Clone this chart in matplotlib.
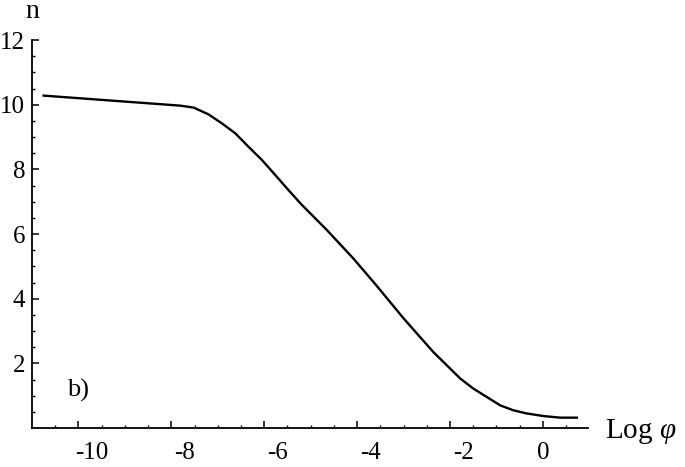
import numpy as np
import matplotlib
matplotlib.use('Agg')
import matplotlib.pyplot as plt
import matplotlib.transforms as mtrans

plt.rcParams['font.family'] = 'Liberation Serif'
plt.rcParams['mathtext.fontset'] = 'custom'
plt.rcParams['mathtext.rm'] = 'Liberation Serif'
plt.rcParams['mathtext.it'] = 'Liberation Serif:italic'
plt.rcParams['axes.unicode_minus'] = False

# curva
log_phi = [-10.75, -7.81, -7.52, -7.20, -6.91, -6.62, -6.34, -6.05, -5.76, -5.48,
           -5.19, -4.65, -4.08, -3.58, -3.00, -2.65, -2.36, -2.07, -1.78, -1.50,
           -1.21, -0.92, -0.64, -0.35, 0.01, 0.37, 0.73]
n_val = [10.28, 9.97, 9.91, 9.70, 9.42, 9.11, 8.70, 8.29, 7.82, 7.36,
         6.90, 6.12, 5.24, 4.40, 3.39, 2.82, 2.35, 1.94, 1.53, 1.22,
         0.96, 0.70, 0.55, 0.45, 0.37, 0.32, 0.32]

xticks = [-10, -8, -6, -4, -2, 0]
yticks = [2, 4, 6, 8, 10, 12]

fig = plt.figure(figsize=(6.85, 4.67), dpi=100)
ax = fig.add_axes([32/685, 1-428/467, (588-32)/685, (428-40)/467])

ax.plot(log_phi, n_val, color='black', lw=1.7)

ax.set_xlim(-11, 0.97)
ax.set_ylim(0, 12)
ax.spines['top'].set_visible(False)
ax.spines['right'].set_visible(False)
for s in ['left', 'bottom']:
    ax.spines[s].set_linewidth(1.3)

ax.set_xticks(xticks)
ax.set_yticks(yticks)
ax.set_xticks(np.arange(-10.5, 1, 0.5), minor=True)
ax.set_yticks(np.arange(0.5, 12, 0.5), minor=True)
ax.tick_params(which='major', direction='in', length=5, width=1.1, labelsize=18)
ax.tick_params(which='minor', direction='in', length=2.5, width=1.0)
ax.tick_params(axis='x', pad=10)
ax.tick_params(axis='y', pad=5)

# os rotulos negativos estao deslocados para a direita na figura original
desloc = mtrans.ScaledTranslation(13/100, 0, fig.dpi_scale_trans)
for v, lab in zip(xticks, ax.get_xticklabels()):
    if v < 0:
        lab.set_transform(lab.get_transform() + desloc)

fig.text(32/685, 1-11/467, 'n', fontsize=20, ha='center', va='center')
ax.text(1.33, -0.32, r'Log $\varphi$', fontsize=21, ha='left', va='baseline', clip_on=False)
ax.text(-10.02, 1.17, 'b)', fontsize=19, ha='center', va='center')

fig.savefig('out.png', dpi=100)
